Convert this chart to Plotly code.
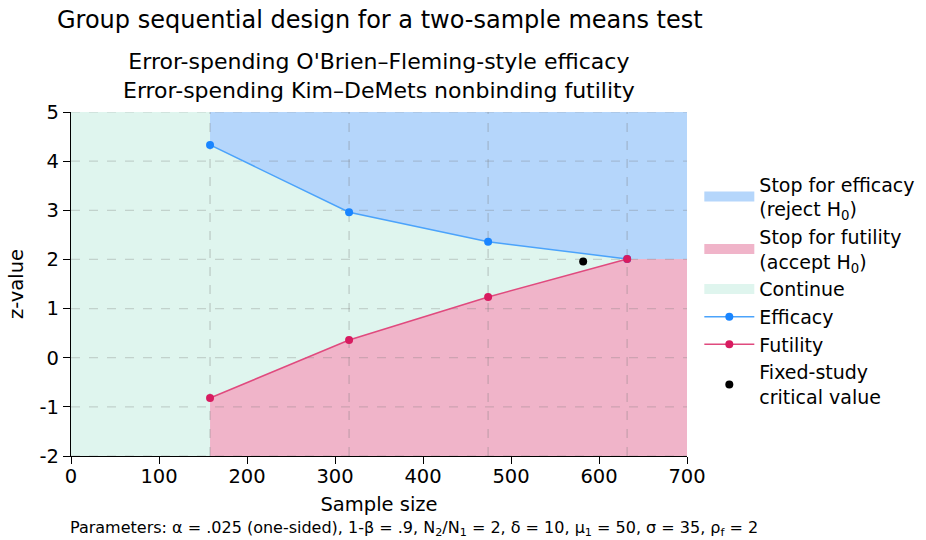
import plotly.graph_objects as go

# ---- data ----
looks_n = [158, 316, 474, 632]
efficacy_z = [4.33, 2.96, 2.36, 2.01]
futility_z = [-0.82, 0.36, 1.235, 2.01]
fixed_n = [582]
fixed_z = [1.96]
x_min, x_max = 0, 700
y_min, y_max = -2, 5
x_ticks = [0, 100, 200, 300, 400, 500, 600, 700]
y_ticks = [-2, -1, 0, 1, 2, 3, 4, 5]
y_tick_labels = ["-2", "-1", "0", "1", "2", "3", "4", "5"]

FONT = "DejaVu Sans"
C_EFF_FILL = "#b5d6fb"
C_FUT_FILL = "#f0b4c9"
C_CONT_FILL = "#dff5ee"
C_EFF_LINE = "#4ba3fb"
C_EFF_MK = "#1a85ff"
C_FUT_LINE = "#e04a7e"
C_FUT_MK = "#d81b60"
GRID = "rgba(120,120,120,0.28)"

fig = go.Figure()

fig.add_trace(go.Scatter(
    x=[x_min, x_max, x_max, x_min, x_min], y=[y_min, y_min, y_max, y_max, y_min],
    fill="toself", fillcolor=C_CONT_FILL, mode="none",
    showlegend=False, hoverinfo="skip"))

ex = looks_n + [x_max, x_max, looks_n[0], looks_n[0]]
ey = efficacy_z + [efficacy_z[-1], y_max, y_max, efficacy_z[0]]
fig.add_trace(go.Scatter(
    x=ex, y=ey, fill="toself", fillcolor=C_EFF_FILL, mode="none",
    showlegend=False, hoverinfo="skip"))

fx = looks_n + [x_max, x_max, looks_n[0], looks_n[0]]
fy = futility_z + [futility_z[-1], y_min, y_min, futility_z[0]]
fig.add_trace(go.Scatter(
    x=fx, y=fy, fill="toself", fillcolor=C_FUT_FILL, mode="none",
    showlegend=False, hoverinfo="skip"))

# legend proxies for the regions (thick line swatches)
for nm, col, rk in [("Stop for efficacy<br>(reject H<sub>0</sub>)", C_EFF_FILL, 1),
                    ("Stop for futility<br>(accept H<sub>0</sub>)", C_FUT_FILL, 2),
                    ("Continue", C_CONT_FILL, 3)]:
    fig.add_trace(go.Scatter(x=[None], y=[None], mode="lines", name=nm, legendrank=rk,
                             line=dict(color=col, width=20)))

for yv in y_ticks:
    fig.add_trace(go.Scatter(x=[x_min, x_max], y=[yv, yv], mode="lines",
                             line=dict(color=GRID, width=1.2, dash="dash"),
                             showlegend=False, hoverinfo="skip"))
for xv in looks_n:
    fig.add_trace(go.Scatter(x=[xv, xv], y=[y_min, y_max], mode="lines",
                             line=dict(color=GRID, width=1.5, dash="dash"),
                             showlegend=False, hoverinfo="skip"))

fig.add_trace(go.Scatter(
    x=looks_n, y=efficacy_z, mode="lines+markers", name="Efficacy", legendrank=4,
    line=dict(color=C_EFF_LINE, width=1.5),
    marker=dict(color=C_EFF_MK, size=8)))
fig.add_trace(go.Scatter(
    x=looks_n, y=futility_z, mode="lines+markers", name="Futility", legendrank=5,
    line=dict(color=C_FUT_LINE, width=1.5),
    marker=dict(color=C_FUT_MK, size=8)))
fig.add_trace(go.Scatter(
    x=fixed_n, y=fixed_z, mode="markers", name="Fixed-study<br>critical value", legendrank=6,
    marker=dict(color="black", size=8)))

fig.update_layout(
    width=926, height=540,
    margin=dict(l=71, r=239, t=112, b=84, autoexpand=False),
    paper_bgcolor="white", plot_bgcolor="white",
    font=dict(family=FONT, size=19, color="black"),
    title=dict(text="Group sequential design for a two-sample means test",
               x=57 / 926, xanchor="left", y=1 - 20 / 540, yanchor="middle",
               font=dict(size=24, family=FONT)),
    legend=dict(x=1.02, y=0.845, xanchor="left", yanchor="top",
                font=dict(size=19, family=FONT), tracegroupgap=0,
                bgcolor="rgba(0,0,0,0)", itemwidth=50),
    showlegend=True,
)
fig.update_xaxes(range=[x_min, x_max], tickvals=x_ticks, showgrid=False, zeroline=False,
                 automargin=False,
                 showline=True, linecolor="black", linewidth=1.2, ticks="outside",
                 ticklen=7, tickcolor="black", tickfont=dict(size=19.5),
                 ticklabelstandoff=-5,
                 title=dict(text="Sample size", font=dict(size=19.5), standoff=10))
fig.update_yaxes(range=[y_min, y_max], tickvals=y_ticks, ticktext=y_tick_labels,
                 showgrid=False, zeroline=False, automargin=False,
                 showline=True, linecolor="black", linewidth=1.2, ticks="outside",
                 ticklen=7, tickcolor="black", tickfont=dict(size=19.5),
                 title=dict(text="z-value", font=dict(size=19.5), standoff=10))

fig.add_annotation(text="Error-spending O'Brien–Fleming-style efficacy<br>Error-spending Kim–DeMets nonbinding futility",
                   xref="paper", yref="paper", x=0.5, y=(456 - 76) / 344, yanchor="middle",
                   showarrow=False, font=dict(size=22, family=FONT))
fig.add_annotation(text="Parameters: α = .025 (one-sided), 1-β = .9, N<sub>2</sub>/N<sub>1</sub> = 2, δ = 10, μ<sub>1</sub> = 50, σ = 35, ρ<sub>f</sub> = 2",
                   xref="paper", yref="paper", x=(414 - 71) / 616, y=-(528 - 456) / 344,
                   yanchor="middle", showarrow=False, font=dict(size=16, family=FONT))

fig.write_html("out.html", post_script="document.body.style.margin='0';",
               config={"displayModeBar": False})
